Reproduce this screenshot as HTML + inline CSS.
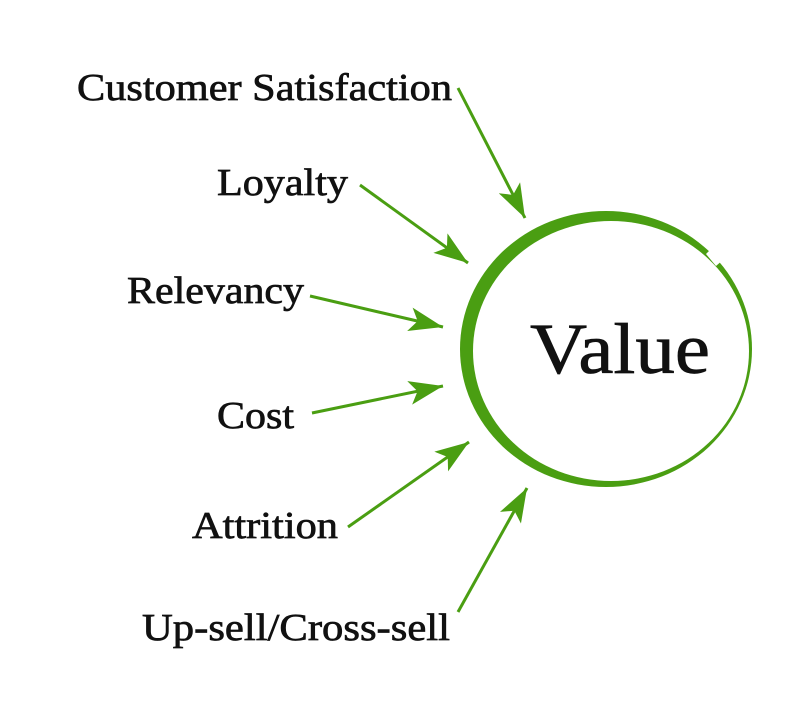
<!DOCTYPE html>
<html><head><meta charset="utf-8"><style>html,body{margin:0;padding:0;background:#fff}svg{display:block}</style></head>
<body>
<svg width="800" height="720" viewBox="0 0 800 720" xmlns="http://www.w3.org/2000/svg">
<defs>
<marker id="ah" markerUnits="userSpaceOnUse" markerWidth="40" markerHeight="30" refX="34" refY="12" orient="auto">
<path d="M0,0 L34,12 L0,24 L8,12 Z" fill="#4a9e12"/>
</marker>
</defs>
<ellipse cx="606" cy="349" rx="146" ry="138" fill="#4a9e12"/>
<ellipse cx="611" cy="351" rx="138" ry="130" fill="#fff"/>
<polygon points="706,254 722,238 732,252 716,266" fill="#fff"/>
<g stroke="#4a9e12" stroke-width="3" marker-end="url(#ah)" fill="none">
<line x1="458" y1="88" x2="525" y2="218"/>
<line x1="360" y1="185" x2="468" y2="263"/>
<line x1="310" y1="296" x2="443" y2="327"/>
<line x1="312" y1="413" x2="443" y2="386"/>
<line x1="348" y1="527" x2="469" y2="442"/>
<line x1="458" y1="612" x2="527" y2="488"/>
</g>
<g font-family="Liberation Serif, serif" font-size="38" fill="#111" stroke="#111" stroke-width="0.7">
<text x="77" y="100" textLength="375" lengthAdjust="spacingAndGlyphs">Customer Satisfaction</text>
<text x="217" y="195" textLength="131" lengthAdjust="spacingAndGlyphs">Loyalty</text>
<text x="127" y="303" textLength="177" lengthAdjust="spacingAndGlyphs">Relevancy</text>
<text x="217" y="428" textLength="77" lengthAdjust="spacingAndGlyphs">Cost</text>
<text x="192" y="538" textLength="146" lengthAdjust="spacingAndGlyphs">Attrition</text>
<text x="142" y="640" textLength="308" lengthAdjust="spacingAndGlyphs">Up-sell/Cross-sell</text>
<text x="530" y="373" font-size="72" textLength="180" lengthAdjust="spacingAndGlyphs">Value</text>
</g>
</svg>
</body></html>
